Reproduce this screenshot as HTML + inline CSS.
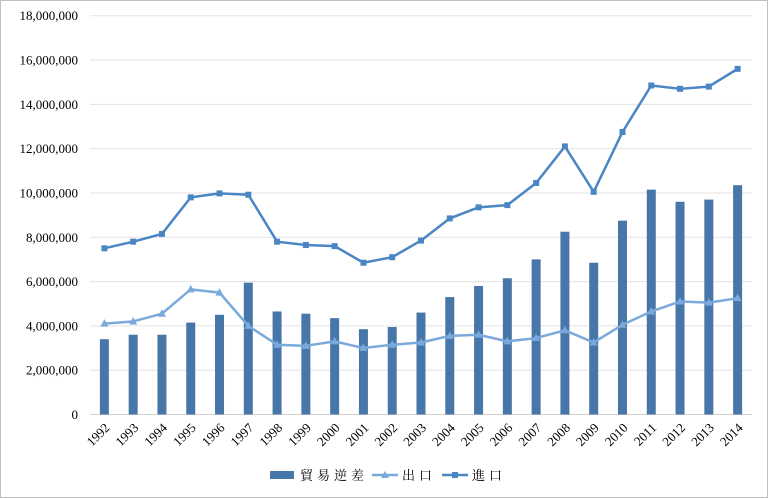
<!DOCTYPE html>
<html><head><meta charset="utf-8"><style>
body{margin:0;background:#fff}
svg{display:block;font-family:"Liberation Serif","Noto Serif CJK SC",serif}
</style></head><body>
<svg id="chart" width="768" height="498">
<rect x="0.5" y="0.5" width="767" height="497" fill="#fff" stroke="#bfbfbf"/>
<g id="grid"></g><g id="bars"></g><g id="lines"></g><g id="ylab"></g><g id="xlab"></g>
<g>
<rect x="270" y="471" width="24" height="8" fill="#4677a8"/>
<text x="300" y="480" font-size="13" letter-spacing="4">貿易逆差</text>
<line x1="372" y1="475" x2="398" y2="475" stroke="#7aa9dc" stroke-width="2.5"/>
<path d="M385,471 L389,478 L381,478Z" fill="#7aa9dc"/>
<text x="402" y="480" font-size="13" letter-spacing="4">出口</text>
<line x1="442" y1="475" x2="468" y2="475" stroke="#4b86c4" stroke-width="2.5"/>
<rect x="452" y="472" width="6" height="6" fill="#4b86c4"/>
<text x="472" y="480" font-size="13" letter-spacing="4">進口</text>
</g>
</svg>
<script>
const years=["1992","1993","1994","1995","1996","1997","1998","1999","2000","2001","2002","2003","2004","2005","2006","2007","2008","2009","2010","2011","2012","2013","2014"];
const deficit=[3.4,3.6,3.6,4.15,4.5,5.95,4.65,4.55,4.35,3.85,3.95,4.6,5.3,5.8,6.15,7.0,8.25,6.85,8.75,10.15,9.6,9.7,10.35];
const exportsV=[4.1,4.2,4.55,5.65,5.5,4.0,3.15,3.1,3.3,3.0,3.15,3.25,3.55,3.6,3.3,3.45,3.8,3.25,4.05,4.65,5.1,5.05,5.25];
const importsV=[7.5,7.8,8.15,9.8,9.98,9.92,7.8,7.65,7.6,6.85,7.1,7.85,8.85,9.35,9.45,10.45,12.1,10.05,12.75,14.85,14.7,14.8,15.6];
const yTicks=[0,2,4,6,8,10,12,14,16,18];
const yTickLabels=["0","2,000,000","4,000,000","6,000,000","8,000,000","10,000,000","12,000,000","14,000,000","16,000,000","18,000,000"];
const NS="http://www.w3.org/2000/svg";
const x0=90,x1=752,y0=414.5,y1=15.7;
const band=(x1-x0)/years.length;
function X(i){return x0+band*(i+0.5);}
function Y(v){return y0-(v/18)*(y0-y1);}
function mk(t,a,p){const e=document.createElementNS(NS,t);for(const k in a)e.setAttribute(k,a[k]);document.getElementById(p).appendChild(e);return e;}
yTicks.forEach((v,i)=>{
 const l=mk('line',{x1:x0,x2:x1,y1:Y(v),y2:Y(v),stroke:i==0?'#d0d0d0':'#e3e3e3','stroke-width':1},'grid');
 
 
 const t=mk('text',{x:78,y:Y(v)+4.5,'text-anchor':'end','font-size':13,fill:'#000'},'ylab');
 t.textContent=yTickLabels[i];
 
 
});
years.forEach((yr,i)=>{
 const b=mk('rect',{x:X(i)-4.5,y:Y(deficit[i]),width:9,height:y0-Y(deficit[i]),fill:'#4677a8'},'bars');
 
 
 const t=mk('text',{x:0,y:0,'text-anchor':'end','font-size':13,transform:`translate(${X(i)+6},${y0+14}) rotate(-45)`},'xlab');
 t.textContent=yr;
 
 
});
function series(vals,color,marker,name){
 const p=mk('polyline',{points:vals.map((v,i)=>X(i)+','+Y(v)).join(' '),fill:'none',stroke:color,'stroke-width':2.5,'stroke-linejoin':'round'},'lines');
 
 
 vals.forEach((v,i)=>{
  let m;
  if(marker=='tri') m=mk('path',{d:`M${X(i)},${Y(v)-4.5} L${X(i)+4},${Y(v)+3} L${X(i)-4},${Y(v)+3}Z`,fill:color},'lines');
  else m=mk('rect',{x:X(i)-3,y:Y(v)-3,width:6,height:6,fill:color},'lines');
  
  
 });
}
series(exportsV,'#7aa9dc','tri','export');
series(importsV,'#4b86c4','sq','import');
</script>
</body></html>
